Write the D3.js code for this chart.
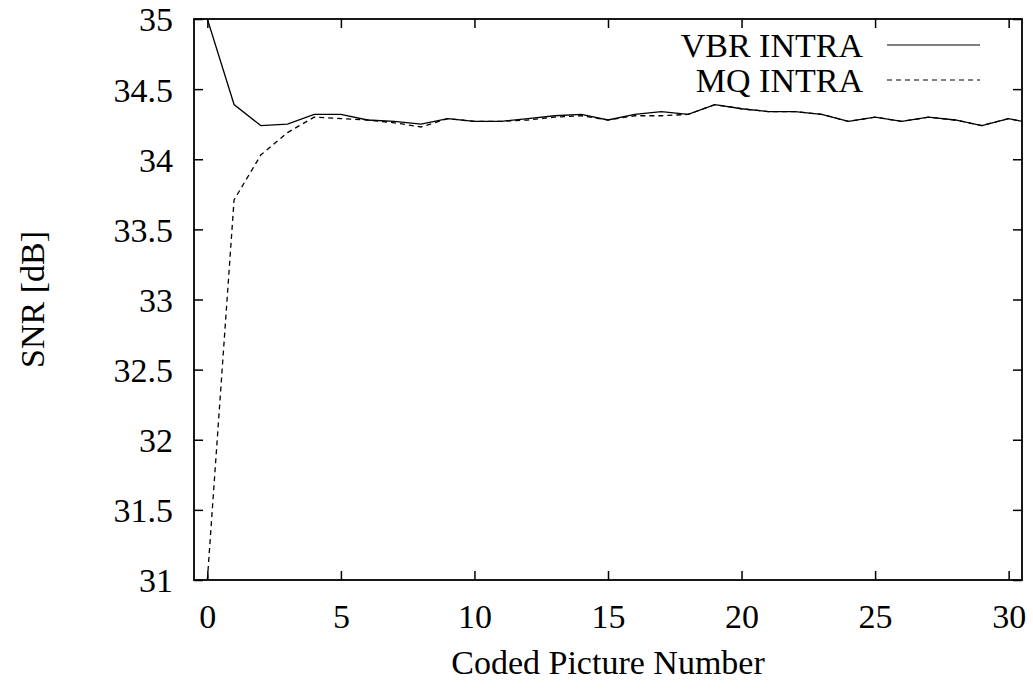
<!DOCTYPE html>
<html>
<head>
<meta charset="utf-8">
<script src="https://cdn.jsdelivr.net/npm/d3@7"></script>
<style>
  body { margin: 0; background: #fff; }
  text { font-family: "Liberation Serif", "DejaVu Serif", Tinos, "Noto Serif", serif; fill: #000; }
</style>
</head>
<body>
<svg id="graph" width="1033" height="693"></svg>
<script>
// picture numbers
const frames = d3.range(0, 32);

// SNR values (last point lies past the right edge and is clipped)
const vbrIntra = [35.00, 34.39, 34.24, 34.25, 34.32, 34.32, 34.28, 34.27, 34.25, 34.29,
                  34.27, 34.27, 34.29, 34.31, 34.32, 34.28, 34.32, 34.34, 34.32, 34.39,
                  34.36, 34.34, 34.34, 34.32, 34.27, 34.30, 34.27, 34.30, 34.28, 34.24,
                  34.29, 34.25];
const mqIntra  = [31.00, 33.71, 34.03, 34.19, 34.30, 34.29, 34.28, 34.26, 34.23, 34.29,
                  34.27, 34.27, 34.28, 34.30, 34.31, 34.28, 34.31, 34.31, 34.32, 34.39,
                  34.36, 34.34, 34.34, 34.32, 34.27, 34.30, 34.27, 34.30, 34.28, 34.24,
                  34.29, 34.25];

const xTicks = [0, 5, 10, 15, 20, 25, 30];
const yTicks = [31, 31.5, 32, 32.5, 33, 33.5, 34, 34.5, 35];

const seriesNames = ["VBR INTRA", "MQ INTRA"];
const seriesData = [vbrIntra, mqIntra];
const dashes = [null, "5,4"];

const svg = d3.select("#graph");
const mLeft = 194, mRight = 1022, mTop = 19, mBottom = 580;
const width = mRight - mLeft, height = mBottom - mTop;
const serif = '"Liberation Serif", "DejaVu Serif", Tinos, "Noto Serif", serif';

const xScale = d3.scaleLinear().domain([-0.5, 30.5]).range([0, width]);
const yScale = d3.scaleLinear().domain([31, 35]).range([height, 0]);

const g = svg.append("g").attr("transform", `translate(${mLeft},${mTop})`);

svg.append("defs").append("clipPath").attr("id", "plotclip")
    .append("rect").attr("width", width).attr("height", height);

// axes, ticks pointing inward (gnuplot style)
const fontSize = 34;
const xAxis = g.append("g")
    .attr("transform", `translate(0,${height})`)
    .call(d3.axisBottom(xScale).tickValues(xTicks).tickSizeInner(-9).tickSizeOuter(0).tickPadding(24));
const xTop = g.append("g")
    .call(d3.axisTop(xScale).tickValues(xTicks).tickSizeInner(-9).tickSizeOuter(0).tickFormat(""));
const yAxis = g.append("g")
    .call(d3.axisLeft(yScale).tickValues(yTicks).tickSizeInner(-9).tickSizeOuter(0).tickPadding(21)
        .tickFormat(d3.format("")));
const yRight = g.append("g")
    .attr("transform", `translate(${width},0)`)
    .call(d3.axisRight(yScale).tickValues(yTicks).tickSizeInner(-9).tickSizeOuter(0).tickFormat(""));

[xAxis, xTop, yAxis, yRight].forEach(a => {
    a.attr("font-family", null);
    a.select(".domain").remove();
    a.selectAll("line").attr("stroke", "#000").attr("stroke-width", 1.5);
    a.selectAll("text").style("font-size", fontSize + "px")
        .style("font-family", serif).attr("fill", "#000");
});
yAxis.selectAll("text").attr("dy", "0.35em");

// frame
g.append("rect")
    .attr("width", width).attr("height", height)
    .attr("fill", "none").attr("stroke", "#000").attr("stroke-width", 1.8);

// lines
const line = d3.line()
    .x((d, i) => xScale(frames[i]))
    .y(d => yScale(d));

const plot = g.append("g").attr("clip-path", "url(#plotclip)");
seriesData.forEach((s, k) => {
    plot.append("path")
        .datum(s)
        .attr("fill", "none")
        .attr("stroke", "#000")
        .attr("stroke-width", 1.3)
        .attr("stroke-dasharray", dashes[k])
        .attr("d", line);
});

// legend
const legend = g.append("g");
seriesNames.forEach((name, k) => {
    const yy = 26 + k * 35;
    legend.append("text")
        .attr("x", 669).attr("y", yy + 12)
        .attr("text-anchor", "end")
        .style("font-size", fontSize + "px")
        .style("font-family", serif)
        .text(name);
    legend.append("line")
        .attr("x1", 693).attr("x2", 786)
        .attr("y1", yy).attr("y2", yy)
        .attr("stroke", "#000").attr("stroke-width", 1.2)
        .attr("stroke-dasharray", dashes[k]);
});

// axis titles
svg.append("text")
    .attr("x", mLeft + width / 2).attr("y", 674)
    .attr("text-anchor", "middle")
    .style("font-size", fontSize + "px")
    .style("font-family", serif)
    .text("Coded Picture Number");

svg.append("text")
    .attr("transform", `translate(44, ${mTop + height / 2}) rotate(-90)`)
    .attr("text-anchor", "middle")
    .style("font-size", fontSize + "px")
    .style("font-family", serif)
    .text("SNR [dB]");
</script>
</body>
</html>
